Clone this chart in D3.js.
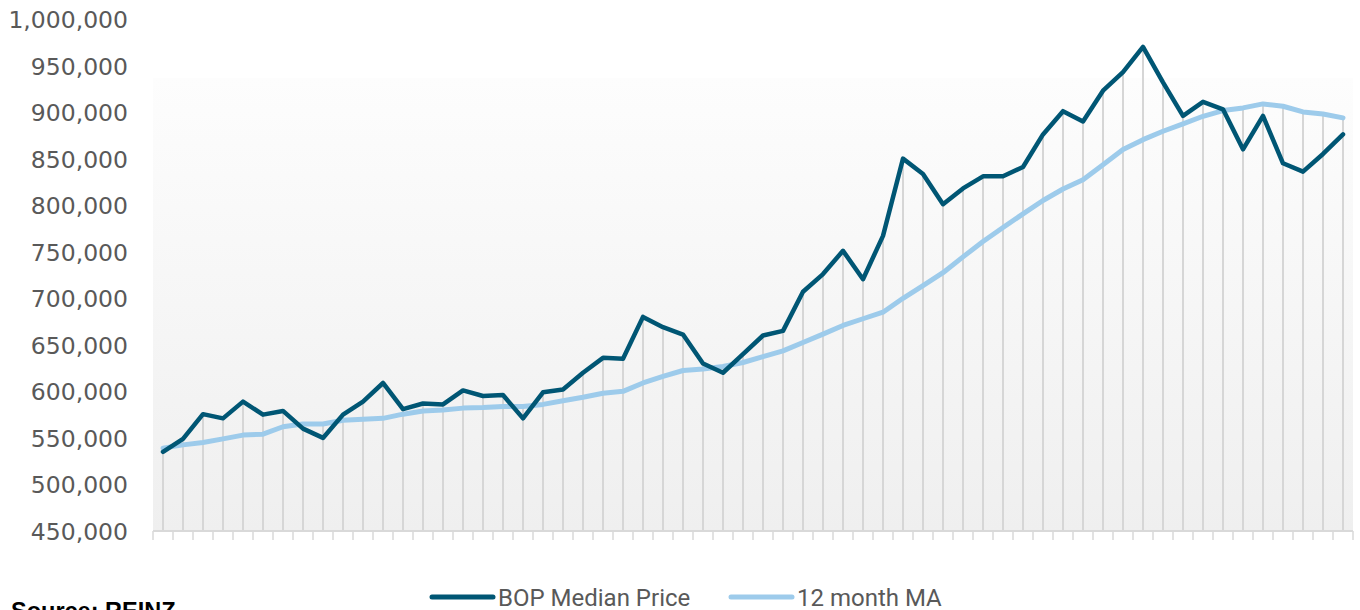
<!DOCTYPE html>
<meta charset="utf-8">
<style>
body{
  margin: 0;
  background: #fff;
  font-family: Roboto, Inter, sans-serif;
}
svg{ display: block; }
.tick text{ fill: #595959; font-size: 23.5px; font-family: "DejaVu Sans", sans-serif; }
.legend text{ fill: #595959; font-size: 24px; font-family: Roboto, sans-serif; }
.source{ font-weight: bold; font-size: 23.5px; fill: #000; font-family: "Liberation Sans", Arial, sans-serif; }
</style>
<body>
<div id='chart'></div>
<script src="https://cdn.jsdelivr.net/npm/d3@7"></script>
<script>

// monthly median price, BOP region, 60 months
var median = [
  535000, 549000, 575500, 571000, 589000, 575000, 579000, 560000, 550000, 575000,
  589000, 609000, 581000, 587000, 586000, 601000, 595000, 596000, 571000, 599000,
  602000, 620000, 636000, 635000, 680000, 669000, 661000, 630000, 620000, 640000,
  660000, 665000, 707000, 726000, 751000, 720500, 767000, 850000, 833500, 801000,
  818000, 831000, 831000, 841000, 876000, 901000, 890000, 923000, 943000, 970000,
  932000, 896000, 911000, 903000, 860000, 896000, 845000, 836000, 855000, 876000
]

var movingAvg = [
  539000, 542500, 545000, 549000, 553000, 554000, 562000, 565000, 565000, 569000,
  570000, 571000, 575500, 579000, 580000, 582000, 582600, 583700, 583700, 586000,
  590000, 593700, 598000, 600000, 609000, 616000, 622400, 624000, 626700, 631000,
  637400, 643500, 652500, 661500, 670800, 678000, 685000, 700000, 713500, 727500,
  744500, 761000, 776000, 790700, 805000, 817400, 827400, 843500, 859700, 870400,
  879400, 887300, 895500, 901600, 904500, 908800, 906300, 900200, 898000, 893800
]

var seriesNames = ['BOP Median Price', '12 month MA']
var seriesColors = ['#005674', '#9dcbeb']
var yTicks = d3.range(450000, 1000001, 50000)
var months = d3.range(median.length)

var width = 1360,
    height = 610

var svg = d3.select('#chart').append('svg')
    .attr('width', width)
    .attr('height', height)

var x = d3.scaleBand()
    .domain(months)
    .range([153, 1353])

var y = d3.scaleLinear()
    .domain([450000, 1000000])
    .range([531, 19])

var defs = svg.append('defs')
var grad = defs.append('linearGradient')
    .attr('id', 'bg')
    .attr('x1', 0).attr('y1', 0).attr('x2', 0).attr('y2', 1)
grad.append('stop').attr('offset', '0%').attr('stop-color', '#fdfdfd')
grad.append('stop').attr('offset', '100%').attr('stop-color', '#efefef')

svg.append('rect')
    .attr('x', x.range()[0])
    .attr('y', 78)
    .attr('width', x.range()[1] - x.range()[0])
    .attr('height', y(450000) - 78)
    .attr('fill', 'url(#bg)')

// drop lines from the axis up to the higher series
svg.append('g').selectAll('line')
    .data(months)
  .enter().append('line')
    .attr('x1', function(i){ return x(i) + x.bandwidth()/2 })
    .attr('x2', function(i){ return x(i) + x.bandwidth()/2 })
    .attr('y1', y(450000))
    .attr('y2', function(i){ return y(Math.max(median[i], movingAvg[i])) })
    .attr('stroke', '#d6d6d6')
    .attr('stroke-width', 2)

// y axis labels
var yAxis = svg.append('g')
    .attr('transform', 'translate(128,0)')
    .call(d3.axisLeft(y).tickValues(yTicks).tickSize(0).tickPadding(0)
      .tickFormat(d3.format(',')))
yAxis.select('.domain').remove()
yAxis.selectAll('text').attr('dy', '0.36em')

// x axis: baseline and tick marks at band edges, no labels
var xAxis = svg.append('g')
xAxis.append('line')
    .attr('x1', x.range()[0]).attr('x2', x.range()[1])
    .attr('y1', y(450000)).attr('y2', y(450000))
    .attr('stroke', '#d9d9d9').attr('stroke-width', 2)
xAxis.selectAll('.xt')
    .data(months.concat([months.length]))
  .enter().append('line')
    .attr('class', 'xt')
    .attr('x1', function(i){ return x.range()[0] + i * x.step() })
    .attr('x2', function(i){ return x.range()[0] + i * x.step() })
    .attr('y1', y(450000)).attr('y2', y(450000) + 9)
    .attr('stroke', '#d9d9d9').attr('stroke-width', 1.5)

var line = function(values){
  return d3.line()
    .x(function(d, i){ return x(i) + x.bandwidth()/2 })
    .y(function(d){ return y(d) })(values)
}

svg.append('path')
    .attr('d', line(movingAvg))
    .attr('fill', 'none')
    .attr('stroke', seriesColors[1])
    .attr('stroke-width', 5)
    .attr('stroke-linecap', 'round')
    .attr('stroke-linejoin', 'round')

svg.append('path')
    .attr('d', line(median))
    .attr('fill', 'none')
    .attr('stroke', seriesColors[0])
    .attr('stroke-width', 4.5)
    .attr('stroke-linecap', 'round')
    .attr('stroke-linejoin', 'round')

// legend
var legend = svg.append('g').attr('class', 'legend')
var legX = [432, 731]
seriesNames.forEach(function(name, k){
  legend.append('line')
      .attr('x1', legX[k]).attr('x2', legX[k] + 61)
      .attr('y1', 597).attr('y2', 597)
      .attr('stroke', seriesColors[k])
      .attr('stroke-width', 5)
      .attr('stroke-linecap', 'round')
  legend.append('text')
      .attr('x', legX[k] + 66)
      .attr('y', 606)
      .text(name)
})

svg.append('text')
    .attr('class', 'source')
    .attr('x', 11)
    .attr('y', 619)
    .text('Source: REINZ')

</script>
